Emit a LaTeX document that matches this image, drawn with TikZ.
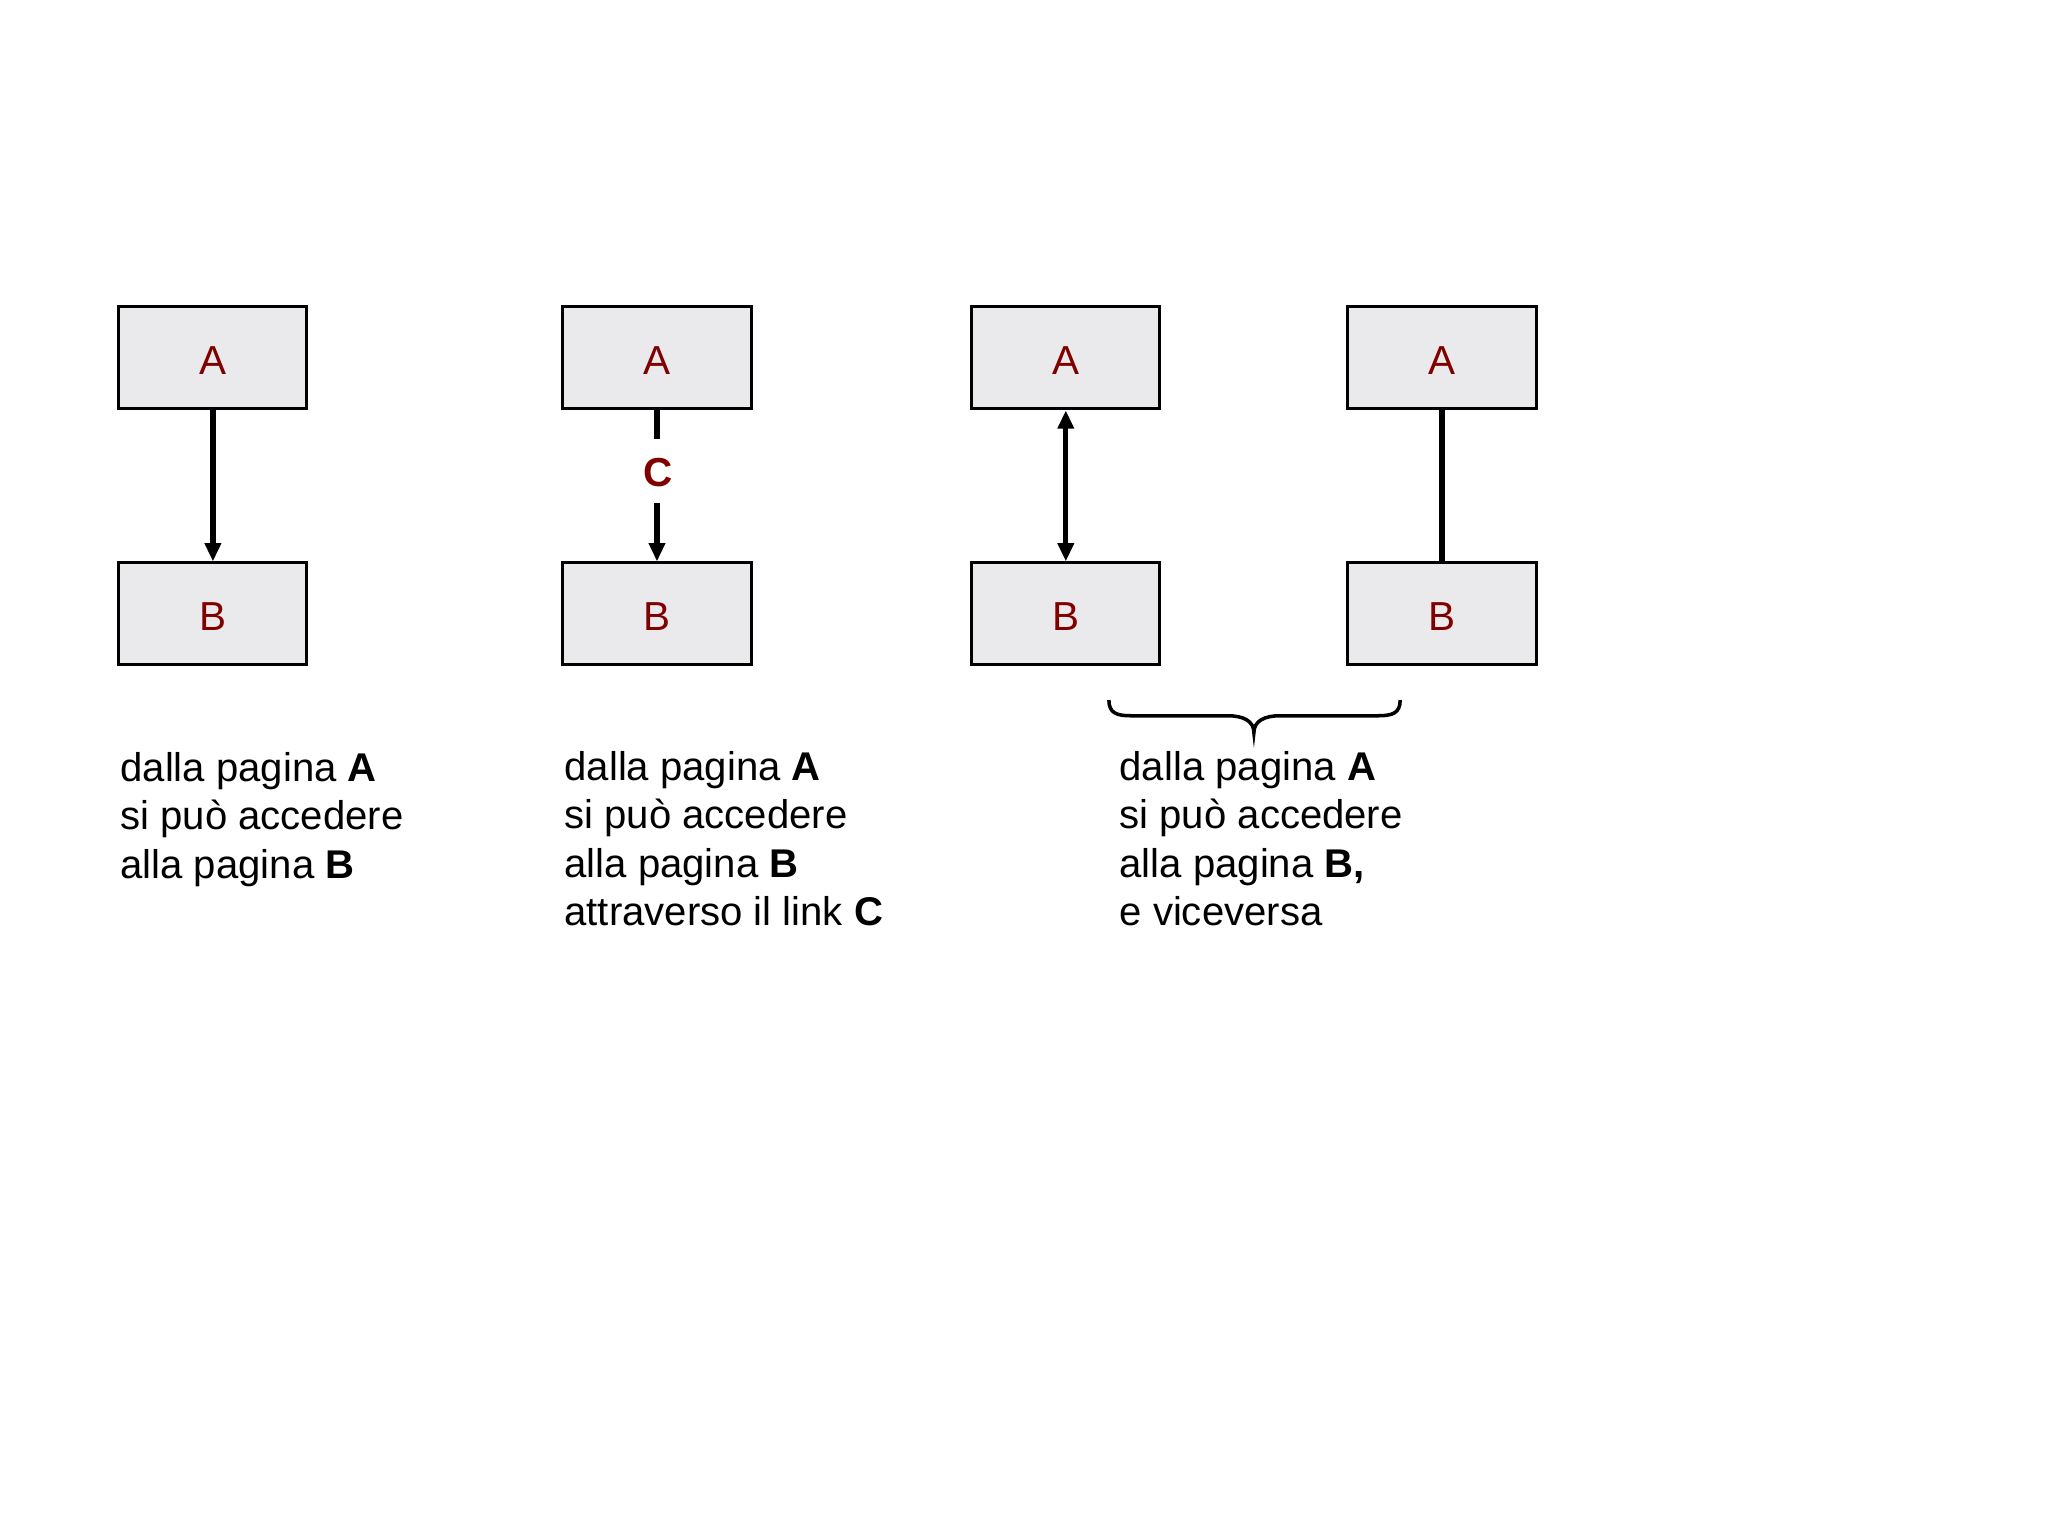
\documentclass[tikz,border=0pt]{standalone}
\usepackage{fontspec}
\setmainfont{Liberation Sans}
\usetikzlibrary{arrows.meta}
\definecolor{boxfill}{RGB}{234,233,235}
\definecolor{darkred}{RGB}{128,0,0}
\tikzset{
  page/.style={draw=black,line width=2.3pt,fill=boxfill,minimum width=144pt,minimum height=78pt,inner sep=0pt,
    font=\fontsize{31pt}{36pt}\selectfont,text=darkred,text depth=0pt,text height=26pt},
  conn/.style={line width=4pt},
  tip/.style={-{Triangle[length=14pt,width=12pt]}},
  tips/.style={{Triangle[length=14pt,width=12pt]}-{Triangle[length=14pt,width=12pt]}},
  caption/.style={anchor=north west,inner sep=0pt,align=left,font=\fontsize{30.7pt}{37pt}\selectfont},
  brace/.style={line width=2.7pt}
}
\begin{document}
\begin{tikzpicture}[x=1pt,y=-1pt]
\useasboundingbox[fill=white] (0,0) rectangle (1568,1176);
% column 1
\node[page] (A1) at (163,274) {A};
\node[page] (B1) at (163,470) {B};
\draw[conn,tip] (A1.south) -- (B1.north);
% column 2
\node[page] (A2) at (503,274) {A};
\node[page] (B2) at (503,470) {B};
\coordinate (c1) at (503,336);
\coordinate (c2) at (503,385);
\node[inner sep=0pt,text=darkred,font=\fontsize{31pt}{36pt}\selectfont\bfseries] (C) at (504,362) {C};
\draw[conn] (A2.south) -- (c1);
\draw[conn,tip] (c2) -- (B2.north);
% column 3
\node[page] (A3) at (816,274) {A};
\node[page] (B3) at (816,470) {B};
\draw[conn,tips] (A3.south) -- (B3.north);
% column 4
\node[page] (A4) at (1104,274) {A};
\node[page] (B4) at (1104,470) {B};
\draw[conn] (A4.south) -- (B4.north);
% brace
\coordinate (bl) at (849,536);
\coordinate (br) at (1072,536);
\coordinate (bt) at (960,561);
\draw[brace] (bl) .. controls (849,546) and (855,548) .. (866,548) -- (940,548)
  .. controls (952,548) and (960,552) .. (bt)
  .. controls (960,552) and (968,548) .. (980,548) -- (1055,548)
  .. controls (1066,548) and (1072,546) .. (br);
% captions
\node[caption] (T1) at (92,576) {dalla pagina \textbf{A}\\si può accedere\\alla pagina \textbf{B}};
\node[caption] (T2) at (432,575) {dalla pagina \textbf{A}\\si può accedere\\alla pagina \textbf{B}\\attraverso il link \textbf{C}};
\node[caption] (T3) at (857,575) {dalla pagina \textbf{A}\\si può accedere\\alla pagina \textbf{B,}\\e viceversa};
\end{tikzpicture}
\end{document}
